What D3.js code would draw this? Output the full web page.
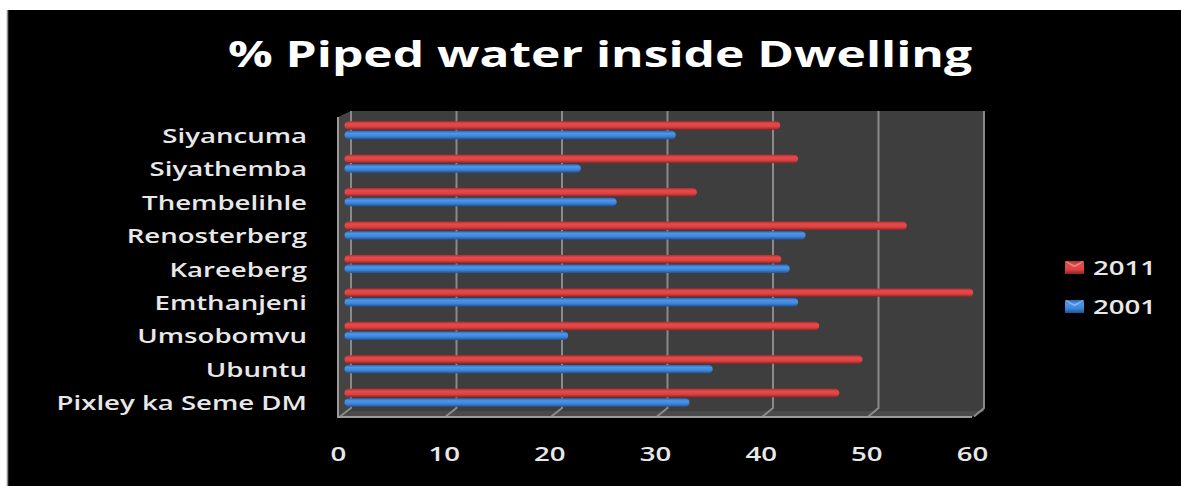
<!DOCTYPE html>
<html>
<head>
<meta charset="utf-8">
<script src="https://cdn.jsdelivr.net/npm/d3@7"></script>
<style>
  html, body { margin: 0; padding: 0; background: #ffffff; }
  svg { display: block; }
  text { font-family: "Open Sans", "DejaVu Sans", sans-serif; fill: #f2f2f2; }
</style>
</head>
<body>
<svg id="chart" width="1181" height="486"></svg>
<script>
// Municipalities, top to bottom
const categories = [
  "Siyancuma", "Siyathemba", "Thembelihle", "Renosterberg", "Kareeberg",
  "Emthanjeni", "Umsobomvu", "Ubuntu", "Pixley ka Seme DM"
];
const seriesNames = ["2011", "2001"];
// % of households with piped water inside the dwelling
const values2011 = [41.3, 43.0, 33.4, 53.3, 41.4, 59.6, 45.0, 49.1, 46.9];
const values2001 = [31.4, 22.4, 25.8, 43.7, 42.2, 43.0, 21.2, 34.9, 32.7];
const tickValues = [0, 10, 20, 30, 40, 50, 60];
const titleText = "% Piped water inside Dwelling";

const svg = d3.select("#chart");
const SX = 1.38; // horizontal stretch applied to all text

// Chart background
svg.append("rect").attr("x", 8).attr("y", 10).attr("width", 1173).attr("height", 476).attr("fill", "#000");
svg.append("line").attr("x1", 7.5).attr("x2", 7.5).attr("y1", 10).attr("y2", 486)
  .attr("stroke", "#8c8c8c").attr("stroke-width", 1.5);

// Title
svg.append("text")
  .attr("transform", `translate(600,67) scale(${SX},1)`)
  .attr("text-anchor", "middle")
  .style("font-weight", "700")
  .style("font-size", "36px")
  .style("fill", "#ffffff")
  .text(titleText);

// Three depth planes of the pseudo-3D plot: front, middle (bars), back wall
const domain = [0, 60];
const xFront = d3.scaleLinear().domain(domain).range([338, 972]);
const xBar = d3.scaleLinear().domain(domain).range([344.5, 977.5]);
const xBack = d3.scaleLinear().domain(domain).range([351, 984]);
const backTop = 111, backBottom = 411, frontTop = 117, frontBottom = 417;

const y = d3.scaleBand().domain(categories).range([113.5, 414.5])
  .paddingInner(0.3).paddingOuter(0.15);
const ySeries = d3.scaleBand().domain(seriesNames).range([0, y.bandwidth()])
  .paddingInner(0.12).paddingOuter(0.28);

const wallFill = "#3e3e3e";
const edge = "#8a8a8a";

// Back wall
svg.append("rect")
  .attr("x", xBack(0)).attr("y", backTop)
  .attr("width", xBack(60) - xBack(0)).attr("height", backBottom - backTop)
  .attr("fill", wallFill);
// Left side wall
svg.append("polygon")
  .attr("points", [[xFront(0), frontTop], [xBack(0), backTop], [xBack(0), backBottom], [xFront(0), frontBottom]].join(" "))
  .attr("fill", "#444444");
// Floor
svg.append("polygon")
  .attr("points", [[xFront(0), frontBottom], [xBack(0), backBottom], [xBack(60), backBottom], [xFront(60), frontBottom]].join(" "))
  .attr("fill", "#4a4a4a");

// Gridlines on the back wall running down onto the floor
const grid = svg.append("g").attr("fill", "none").attr("stroke", edge).attr("stroke-width", 2);
grid.selectAll("path").data(tickValues).join("path")
  .attr("d", d => `M${xBack(d)},${backTop} L${xBack(d)},${backBottom - 3} L${xFront(d) + 2},${frontBottom - 0.5}`);
// Floor front edge and left wall edge
svg.append("path")
  .attr("d", `M${xFront(0)},${frontTop} L${xFront(0)},${frontBottom} L${xFront(60)},${frontBottom}`)
  .attr("fill", "none").attr("stroke", "#9a9a9a").attr("stroke-width", 2);

// Bar gradients
const defs = svg.append("defs");
function grad(id, stops) {
  const g = defs.append("linearGradient").attr("id", id)
    .attr("x1", 0).attr("x2", 0).attr("y1", 0).attr("y2", 1);
  stops.forEach(([o, c]) => g.append("stop").attr("offset", o).attr("stop-color", c));
}
grad("g2011", [[0, "#b03030"], [0.3, "#e84a4a"], [0.65, "#dc4242"], [1, "#902424"]]);
grad("g2001", [[0, "#2e68b4"], [0.3, "#4e96ea"], [0.65, "#3d84d8"], [1, "#215296"]]);
const fills = { "2011": "url(#g2011)", "2001": "url(#g2001)" };

const rows = categories.map((c, i) => ({ cat: c, "2011": values2011[i], "2001": values2001[i] }));
const barH = ySeries.bandwidth();
const barG = svg.append("g");
rows.forEach(r => {
  seriesNames.forEach(s => {
    barG.append("rect")
      .attr("x", xBar(0))
      .attr("y", y(r.cat) + ySeries(s))
      .attr("width", xBar(r[s]) - xBar(0))
      .attr("height", barH)
      .attr("rx", barH / 2).attr("ry", barH / 2)
      .attr("fill", fills[s]);
  });
});

// Category labels
svg.append("g").selectAll("text").data(categories).join("text")
  .attr("transform", d => `translate(307,${y(d) + y.bandwidth() / 2 + 12.5}) scale(${SX},1)`)
  .attr("text-anchor", "end")
  .style("font-size", "20px")
  .style("font-weight", "600")
  .style("fill", "#e8e8e8")
  .text(d => d);

// Value axis along the front of the floor
const axis = svg.append("g").attr("transform", `translate(0,${frontBottom})`)
  .call(d3.axisBottom(xFront).tickValues(tickValues).tickSize(0).tickPadding(0).tickFormat(d3.format("d")));
axis.select(".domain").remove();
axis.selectAll("text")
  .attr("y", 0).attr("dy", 0)
  .attr("transform", `translate(0,44) scale(${SX},1)`)
  .style("font-family", "'Open Sans', sans-serif")
  .style("font-size", "20px")
  .style("font-weight", "600")
  .style("fill", "#e8e8e8");

// Legend
const legend = svg.append("g");
const legendY = d3.scalePoint().domain(seriesNames).range([267.5, 306.5]);
seriesNames.forEach(s => {
  const cy = legendY(s);
  legend.append("rect")
    .attr("x", 1065).attr("y", cy - 6.5).attr("width", 19).attr("height", 13)
    .attr("fill", fills[s]);
  legend.append("path")
    .attr("d", `M1066,${cy - 6} L1074.5,${cy - 1} L1083,${cy - 6}`)
    .attr("fill", "none").attr("stroke", "rgba(255,255,255,0.35)").attr("stroke-width", 1.5);
  legend.append("text")
    .attr("transform", `translate(1093,${cy + 7.5}) scale(${SX},1)`)
    .style("font-size", "20px")
    .style("font-weight", "600")
    .style("fill", "#e8e8e8")
    .text(s);
});
</script>
</body>
</html>
